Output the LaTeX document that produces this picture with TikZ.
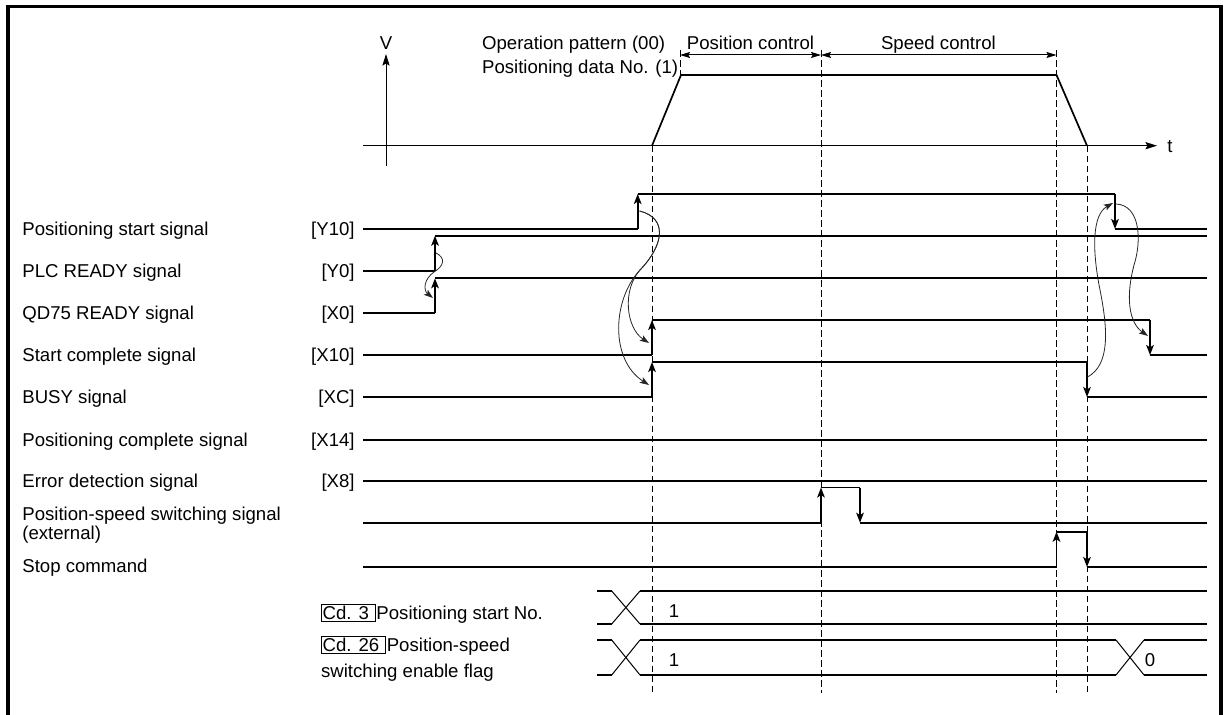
\documentclass[tikz,border=0pt]{standalone}
\usepackage{fontspec}
\setmainfont{Liberation Sans}
\usetikzlibrary{arrows.meta}
\begin{document}
\begin{tikzpicture}[x=0.5pt,y=-0.5pt,
  every node/.style={font=\fontsize{9.3pt}{11pt}\selectfont, inner sep=0pt},
  sig/.style={line width=0.85pt},
  edgearr/.style={line width=0.85pt, -{Stealth[length=5pt,width=3.8pt,inset=1.2pt]}},
  thinl/.style={line width=0.5pt},
  guide/.style={line width=0.5pt, dash pattern=on 3.3pt off 1.7pt},
  curv/.style={line width=0.4pt, black!85, -{Stealth[length=4.6pt,width=3.2pt,inset=1pt]}},
  axarr/.style={line width=0.5pt, -{Stealth[length=5.8pt,width=3.6pt,inset=1pt]}},
  dimarr/.style={line width=0.5pt, {Stealth[length=5pt,width=3pt,inset=0.8pt]}-{Stealth[length=5pt,width=3pt,inset=0.8pt]}},
  lbl/.style={anchor=base west},
  xlbl/.style={anchor=base east},
  cdbox/.style={draw, line width=0.5pt, anchor=base west, inner xsep=0.75pt, inner ysep=0pt, text height=7.5pt, text depth=1pt}
]
\useasboundingbox (0,0) rectangle (1224,715);
% frame
\draw[line width=1.65pt] (8,715) -- (8,6.7) -- (1221,6.7) -- (1221,715);

% axes
\draw[axarr] (386,166) -- (386,54);
\draw[axarr] (363,145.7) -- (1157,145.7);
\node[anchor=base] (vlab) at (386,50) {V};
\node[anchor=base] (tlab) at (1170,153) {t};

% velocity profile
\draw[sig] (652,145.7) -- (681,75) -- (1056.5,75) -- (1087,145.7);

% top labels
\node[lbl] (op) at (481.7,49.5) {Operation pattern (00)};
\node[lbl] (pd) at (481.7,74) {Positioning data No. (1)};
\node[anchor=base] (pc) at (750.5,50) {Position control};
\node[anchor=base] (sc) at (938.4,50) {Speed control};
\coordinate (d1) at (680,55);
\coordinate (d2) at (821,55);
\coordinate (d3) at (1056.5,55);
\draw[dimarr] (d1) -- (d2);
\draw[dimarr] (d2) -- (d3);

% guide lines
\draw[guide] (680,50) -- (680,75);
\draw[guide] (652,145.7) -- (652,693);
\draw[guide] (821,50) -- (821,693);
\draw[guide] (1056.5,50) -- (1056.5,693);
\draw[guide] (1087,145.7) -- (1087,693);

% left labels
\node[lbl] (l1) at (22,235.7) {Positioning start signal};
\node[lbl] (l2) at (22,277.7) {PLC READY signal};
\node[lbl] (l3) at (22,319.7) {QD75 READY signal};
\node[lbl] (l4) at (22,361.7) {Start complete signal};
\node[lbl] (l5) at (22,403.7) {BUSY signal};
\node[lbl] (l6) at (22,446.7) {Positioning complete signal};
\node[lbl] (l7) at (22,487.7) {Error detection signal};
\node[lbl] (l8a) at (22,520.5) {Position-speed switching signal};
\node[lbl] (l8b) at (22,539) {(external)};
\node[lbl] (l9) at (22,572.7) {Stop command};

\node[xlbl] (x1) at (355,235.7) {[Y10]};
\node[xlbl] (x2) at (355,277.7) {[Y0]};
\node[xlbl] (x3) at (355,319.7) {[X0]};
\node[xlbl] (x4) at (355,361.7) {[X10]};
\node[xlbl] (x5) at (355,403.7) {[XC]};
\node[xlbl] (x6) at (355,446.7) {[X14]};
\node[xlbl] (x7) at (355,487.7) {[X8]};

% Y10
\draw[sig] (363,229) -- (637.7,229);
\draw[edgearr] (637.7,229) -- (637.7,194);
\draw[sig] (637.7,194) -- (1115,194);
\draw[edgearr] (1115,194) -- (1115,229);
\draw[sig] (1115,229) -- (1207,229);
% Y0
\draw[sig] (363,271) -- (435,271);
\draw[edgearr] (435,271) -- (435,235.7);
\draw[sig] (435,235.7) -- (1207,235.7);
% X0
\draw[sig] (363,313) -- (435,313);
\draw[edgearr] (435,313) -- (435,278.3);
\draw[sig] (435,278.3) -- (1207,278.3);
% X10
\draw[sig] (363,355) -- (652,355);
\draw[edgearr] (652,355) -- (652,320);
\draw[sig] (652,320) -- (1150,320);
\draw[edgearr] (1150,320) -- (1150,355);
\draw[sig] (1150,355) -- (1207,355);
% XC
\draw[sig] (363,397) -- (652,397);
\draw[edgearr] (652,397) -- (652,362);
\draw[sig] (652,362) -- (1087,362);
\draw[edgearr] (1087,362) -- (1087,397);
\draw[sig] (1087,397) -- (1207,397);
% X14, X8
\draw[sig] (363,440) -- (1207,440);
\draw[sig] (363,481) -- (1207,481);
% position-speed switching
\draw[sig] (363,522.7) -- (821,522.7);
\draw[edgearr] (821,522.7) -- (821,487.5);
\draw[sig] (821,487.5) -- (860,487.5);
\draw[edgearr] (860,487.5) -- (860,522.7);
\draw[sig] (860,522.7) -- (1207,522.7);
% stop command
\draw[sig] (363,567) -- (1056.5,567);
\draw[edgearr] (1056.5,567) -- (1056.5,531.7);
\draw[sig] (1056.5,531.7) -- (1087,531.7);
\draw[edgearr] (1087,531.7) -- (1087,567);
\draw[sig] (1087,567) -- (1207,567);

% buses
\draw[sig] (597,591) -- (611.7,591);
\draw[sig] (597,624) -- (611.7,624);
\draw[thinl] (611.7,591) -- (640,624);
\draw[thinl] (611.7,624) -- (640,591);
\draw[sig] (640,591) -- (1207,591);
\draw[sig] (640,624) -- (1207,624);

\draw[sig] (597,640) -- (611.7,640);
\draw[sig] (597,675) -- (611.7,675);
\draw[thinl] (611.7,640) -- (640,675);
\draw[thinl] (611.7,675) -- (640,640);
\draw[sig] (640,640) -- (1116,640);
\draw[sig] (640,675) -- (1116,675);
\draw[thinl] (1116,640) -- (1144,675);
\draw[thinl] (1116,675) -- (1144,640);
\draw[sig] (1144,640) -- (1207,640);
\draw[sig] (1144,675) -- (1207,675);

\node[anchor=base] (v1) at (674,617) {1};
\node[anchor=base] (v2) at (674,666) {1};
\node[anchor=base] (v3) at (1150,666) {0};

% Cd labels
\node[cdbox] (cd3) at (320.7,619.5) {Cd. 3\hspace*{2.6pt}};
\node[lbl] (cd3t) at (cd3.base east) {Positioning start No.};
\node[cdbox] (cd26) at (320.7,651.5) {Cd. 26\hspace*{2.6pt}};
\node[lbl] (cd26t) at (cd26.base east) {Position-speed};
\node[lbl] (cd26u) at (320.7,677.5) {switching enable flag};

% causal curves
\coordinate (ca) at (436,253);
\coordinate (cb) at (433,298);
\coordinate (cc) at (639.5,211);
\coordinate (cd) at (649,343);
\coordinate (ce) at (649,385);
\coordinate (cf) at (1087.5,377);
\coordinate (cg) at (1113,203);
\coordinate (ch) at (1116,204);
\coordinate (ci) at (1148,336);
\draw[curv] (ca) .. controls (446,258) and (444,266) .. (434,272) .. controls (424,279) and (423,290) .. (cb);
\draw[curv] (cc) .. controls (668,218) and (664,245) .. (640,270) .. controls (622,290) and (626,328) .. (cd);
\draw[curv] (cc) .. controls (668,218) and (664,245) .. (640,270) .. controls (612,300) and (610,360) .. (ce);
\draw[curv] (cf) .. controls (1110,365) and (1108,330) .. (1100,290) .. controls (1092,250) and (1092,215) .. (cg);
\draw[curv] (ch) .. controls (1140,205) and (1142,240) .. (1134,265) .. controls (1126,295) and (1128,322) .. (ci);
\end{tikzpicture}
\end{document}
